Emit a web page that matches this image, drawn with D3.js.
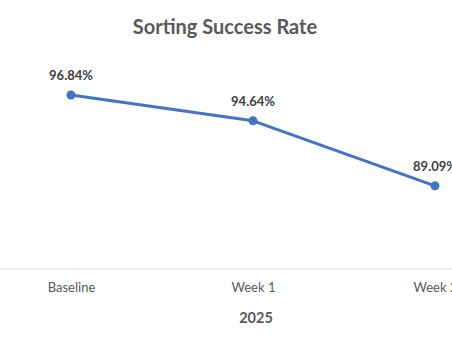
<!DOCTYPE html>
<html>
<head>
<meta charset="utf-8">
<script src="https://cdn.jsdelivr.net/npm/d3@7"></script>
<style>
  html, body { margin: 0; padding: 0; background: #fff; }
  svg { display: block; font-family: Lato, "Open Sans", sans-serif; }
</style>
</head>
<body>
<svg id="chart" width="452" height="339"></svg>
<script>
// Chart data
const categories = ["Baseline", "Week 1", "Week 2"];
const successRate = [96.84, 94.64, 89.09];
const yDomain = [82, 98];
const chartTitle = "Sorting Success Rate";
const axisTitle = "2025";

const svg = d3.select("#chart");
const W = 452, H = 339;

const x = d3.scalePoint().domain(categories).range([71, 435]);
const y = d3.scaleLinear().domain(yDomain).range([269, 81.4]);

// Title
svg.append("text")
  .attr("x", 225).attr("y", 34)
  .attr("text-anchor", "middle")
  .attr("font-size", 20).attr("font-weight", 700)
  .attr("fill", "#595959")
  .text(chartTitle);

// Category axis
const xAxis = d3.axisBottom(x).tickSize(0).tickPadding(14);
const gx = svg.append("g").attr("transform", `translate(0,${y(yDomain[0])})`).call(xAxis);
gx.select(".domain").remove();
gx.selectAll("text").attr("font-size", 13).attr("fill", "#595959").attr("font-family", "Lato, 'Open Sans', sans-serif");
svg.append("line")
  .attr("x1", 0).attr("x2", W)
  .attr("y1", y(yDomain[0])).attr("y2", y(yDomain[0]))
  .attr("stroke", "#d9d9d9").attr("stroke-width", 1.2);

// Axis title
svg.append("text")
  .attr("x", 256).attr("y", 323)
  .attr("text-anchor", "middle")
  .attr("font-size", 14.5).attr("font-weight", 700)
  .attr("fill", "#595959")
  .text(axisTitle);

// Series line
const pts = categories.map((c, i) => ({ c, v: successRate[i] }));
const line = d3.line().x(d => x(d.c)).y(d => y(d.v));
svg.append("path")
  .datum(pts)
  .attr("d", line)
  .attr("fill", "none")
  .attr("stroke", "#4472c4")
  .attr("stroke-width", 3)
  .attr("stroke-linejoin", "round")
  .attr("stroke-linecap", "round");

svg.selectAll("circle.pt")
  .data(pts).enter().append("circle")
  .attr("class", "pt")
  .attr("cx", d => x(d.c)).attr("cy", d => y(d.v))
  .attr("r", 4.5)
  .attr("fill", "#4472c4");

// Data labels
svg.selectAll("text.lbl")
  .data(pts).enter().append("text")
  .attr("class", "lbl")
  .attr("x", d => x(d.c)).attr("y", d => y(d.v) - 15)
  .attr("text-anchor", "middle")
  .attr("font-size", 13).attr("font-weight", 700)
  .attr("fill", "#404040")
  .text(d => d.v.toFixed(2) + "%");
</script>
</body>
</html>
